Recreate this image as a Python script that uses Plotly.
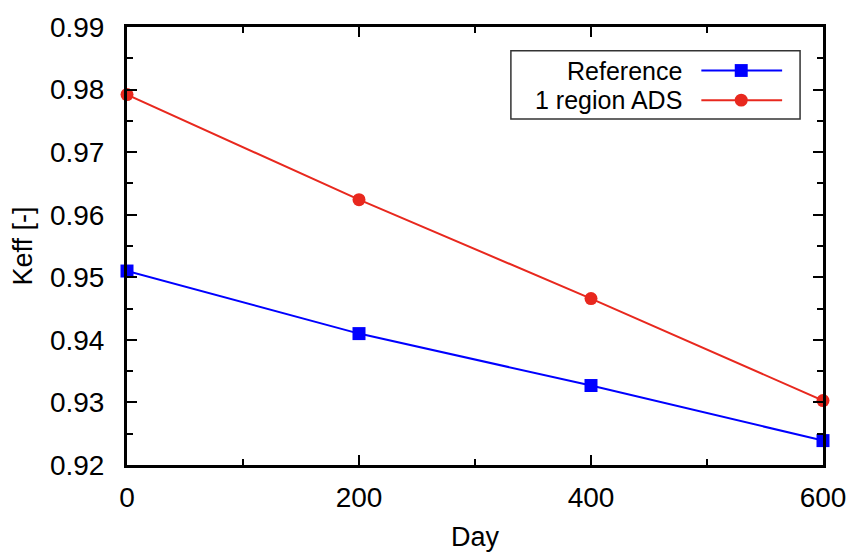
import plotly.graph_objects as go

days = [0, 200, 400, 600]
reference = [0.9510, 0.9410, 0.9327, 0.9239]
ads_1region = [0.9792, 0.9624, 0.9466, 0.9303]
series_names = ["Reference", "1 region ADS"]
x_ticks = [0, 200, 400, 600]
y_ticks = [0.92, 0.93, 0.94, 0.95, 0.96, 0.97, 0.98, 0.99]

W, H = 858, 559
L, R, T, B = 127, 33, 23, 93
pw, ph = W - L - R, H - T - B

def px(x):
    return (x - L) / pw

def py(y):
    return (H - B - y) / ph

FONT = "Liberation Sans, Arial, Helvetica, sans-serif"

fig = go.Figure()
fig.add_trace(go.Scatter(x=days, y=reference, mode="lines+markers", name=series_names[0],
                         line=dict(color="#0000ff", width=2),
                         marker=dict(symbol="square", size=13, color="#0000ff"),
                         cliponaxis=False, showlegend=False))
fig.add_trace(go.Scatter(x=days, y=ads_1region, mode="lines+markers", name=series_names[1],
                         line=dict(color="#e8281e", width=2),
                         marker=dict(symbol="circle", size=13, color="#e8281e"),
                         cliponaxis=False, showlegend=False))

axis_common = dict(showgrid=False, zeroline=False, showline=True, linecolor="black", linewidth=3,
                   mirror="ticks", ticks="inside", ticklen=10, tickwidth=1.5, tickcolor="black",
                   tickfont=dict(size=28, color="black", family=FONT))
fig.update_xaxes(range=[0, 600], tickvals=x_ticks, ticktext=[str(v) for v in x_ticks],
                 minor=dict(dtick=100, ticks="inside", ticklen=6, tickwidth=1.5, tickcolor="black"),
                 title=dict(text="Day", font=dict(size=27, color="black", family=FONT), standoff=16),
                 ticklabelstandoff=5, **axis_common)
fig.update_yaxes(range=[0.92, 0.99], tickvals=y_ticks, ticktext=[f"{v:.2f}" for v in y_ticks],
                 minor=dict(dtick=0.005, ticks="inside", ticklen=6, tickwidth=1.5, tickcolor="black"),
                 title=dict(text="Keff [-]", font=dict(size=27, color="black", family=FONT), standoff=10),
                 ticklabelstandoff=14, **axis_common)

# custom legend (text left, sample on right, as in the reference)
shapes = [dict(type="rect", xref="paper", yref="paper", x0=px(512), x1=px(802), y0=py(116), y1=py(47),
               line=dict(color="#333333", width=1.5), fillcolor="white", layer="above")]
annotations = []
rows = [(67, "#0000ff", "square", series_names[0]), (97, "#e8281e", "circle", series_names[1])]
for yy, col, sym, name in rows:
    shapes.append(dict(type="line", xref="paper", yref="paper", x0=px(703), x1=px(784), y0=py(yy), y1=py(yy),
                       line=dict(color=col, width=2), layer="above"))
    s = 6.5
    shapes.append(dict(type="rect" if sym == "square" else "circle", xref="paper", yref="paper",
                       x0=px(743 - s), x1=px(743 + s), y0=py(yy + s), y1=py(yy - s),
                       line=dict(color=col, width=0), fillcolor=col, layer="above"))
    annotations.append(dict(x=px(685), y=py(yy), xref="paper", yref="paper", text=name, showarrow=False,
                            xanchor="right", yanchor="middle", borderpad=0,
                            font=dict(size=25, color="black", family=FONT)))

fig.update_layout(width=W, height=H, margin=dict(l=L, r=R, t=T, b=B),
                  plot_bgcolor="white", paper_bgcolor="white",
                  shapes=shapes, annotations=annotations, showlegend=False)

fig.write_html("out.html")
